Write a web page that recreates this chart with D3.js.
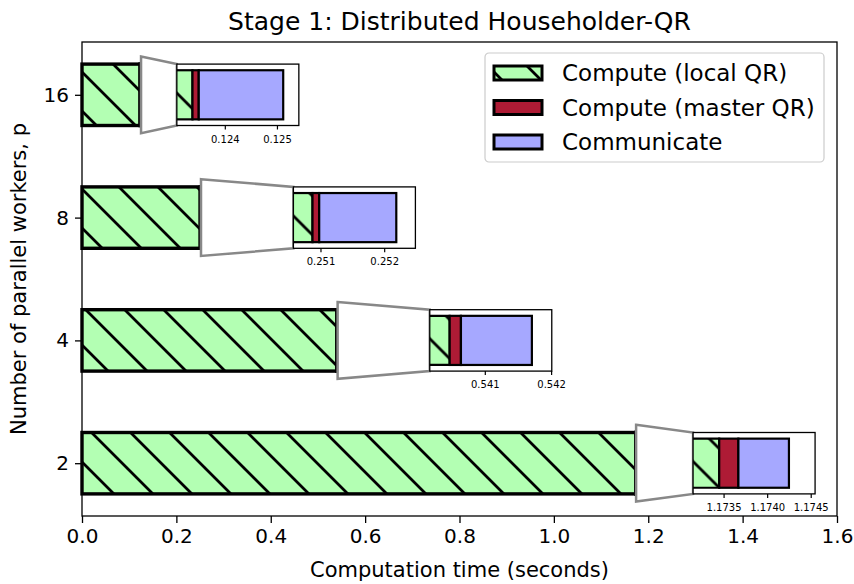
<!DOCTYPE html>
<html lang="en">
<head>
<meta charset="UTF-8">
<title>Stage 1: Distributed Householder-QR</title>
<script src="https://d3js.org/d3.v7.min.js"></script>
<style>
  body { margin: 0; background: #fff; }
  text { font-family: "DejaVu Sans", sans-serif; }
</style>
</head>
<body>
<svg width="854" height="584" id="canvas"></svg>
<script>
// data
const workers = ["2", "4", "8", "16"];
const localQR = [1.17345, 0.54047, 0.250875, 0.12338];
const masterQR = [0.00022, 0.00017, 0.000105, 0.00012];
const communicate = [0.00058, 0.00107, 0.00121, 0.00162];
const xTicks = [0, 0.2, 0.4, 0.6, 0.8, 1.0, 1.2, 1.4, 1.6];
const insetTicks = [[1.1735, 1.1740, 1.1745], [0.541, 0.542], [0.251, 0.252], [0.124, 0.125]];
const seriesNames = ["Compute (local QR)", "Compute (master QR)", "Communicate"];

// layout: where each zoom box sits (in data units), zoom padding
const insetLeft = [1.295, 0.737, 0.448, 0.201];
const zoomPad = 0.0003;

const colors = ["#b3ffb3", "#ae1b35", "#a6a8ff"];

const svg = d3.select("svg");
const L = 82, R = 837, T = 42, B = 516;

const x = d3.scaleLinear().domain([0, 1.6]).range([L, R]);
const y = d3.scaleLinear().domain([-0.43, 3.43]).range([B, T]);
const bh = y(-0.25) - y(0.25);

// hatch pattern
const defs = svg.append("defs");
const s = 39;
const pat = defs.append("pattern")
    .attr("id", "hatch")
    .attr("patternUnits", "userSpaceOnUse")
    .attr("width", s).attr("height", s)
    .attr("x", 10);
pat.append("rect").attr("width", s).attr("height", s).attr("fill", colors[0]);
pat.append("path")
    .attr("d", `M0,0L${s},${s}M${-s/4},${3*s/4}L${s/4},${5*s/4}M${3*s/4},${-s/4}L${5*s/4},${s/4}`)
    .attr("stroke", "black").attr("stroke-width", 2.8);

const fills = ["url(#hatch)", colors[1], colors[2]];

function segments(i) {
    const a = localQR[i], b = a + masterQR[i], c = b + communicate[i];
    return [[0, a, 0], [a, b, 1], [b, c, 2]];
}

// main bars
workers.forEach((w, i) => {
    const g = svg.append("g");
    g.selectAll("rect")
        .data(segments(i))
        .enter()
        .append("rect")
        .attr("x", d => x(d[0]))
        .attr("width", d => x(d[1]) - x(d[0]))
        .attr("y", y(i) - bh / 2)
        .attr("height", bh)
        .attr("fill", d => fills[d[2]])
        .attr("stroke", "black")
        .attr("stroke-width", 3.4);
});

// zoom connectors and insets
const boxW = 122;
workers.forEach((w, i) => {
    const segs = segments(i);
    const total = segs[2][1];
    const yc = y(i);
    const bx = x(insetLeft[i]);
    const big = bh * 1.25 / 2, small = bh / 2;

    svg.append("path")
        .attr("d", `M${x(total)},${yc - big}L${bx},${yc - small}L${bx},${yc + small}L${x(total)},${yc + big}Z`)
        .attr("fill", "white")
        .attr("stroke", "#888")
        .attr("stroke-width", 2.5)
        .attr("stroke-linejoin", "miter");

    const g = svg.append("g").attr("transform", `translate(${bx},${yc - small})`);
    const xi = d3.scaleLinear().domain([localQR[i] - zoomPad, total + zoomPad]).range([0, boxW]);
    const h = bh;

    g.append("rect").attr("width", boxW).attr("height", h).attr("fill", "white");

    defs.append("clipPath").attr("id", "clip" + i)
        .append("rect").attr("width", boxW).attr("height", h);

    g.append("g").attr("clip-path", `url(#clip${i})`)
        .selectAll("rect")
        .data(segs)
        .enter()
        .append("rect")
        .attr("x", d => xi(d[0]))
        .attr("width", d => xi(d[1]) - xi(d[0]))
        .attr("y", h * 0.1)
        .attr("height", h * 0.8)
        .attr("fill", d => fills[d[2]])
        .attr("stroke", "black")
        .attr("stroke-width", 2.2);

    g.append("rect").attr("width", boxW).attr("height", h)
        .attr("fill", "none").attr("stroke", "black").attr("stroke-width", 1.3);

    const fmt = i === 0 ? d3.format(".4f") : d3.format(".3f");
    const ax = g.append("g").attr("transform", `translate(0,${h})`)
        .call(d3.axisBottom(xi).tickValues(insetTicks[i]).tickFormat(fmt).tickSize(4).tickPadding(6));
    ax.select(".domain").remove();
    ax.selectAll("line").attr("stroke-width", 1.2);
    ax.selectAll("text").style("font-size", "10px").attr("fill", "black");
});

// axes
const xAxis = svg.append("g").attr("transform", `translate(0,${B})`)
    .call(d3.axisBottom(x).tickValues(xTicks).tickFormat(d3.format(".1f")).tickSize(7).tickPadding(6));
xAxis.selectAll("text").style("font-size", "20px").attr("fill", "black");
xAxis.selectAll("line").attr("stroke-width", 1.3);

const yAxis = svg.append("g").attr("transform", `translate(${L},0)`)
    .call(d3.axisLeft(y).tickValues([0, 1, 2, 3]).tickFormat(i => workers[i]).tickSize(7).tickPadding(6));
yAxis.selectAll("text").style("font-size", "20px").attr("fill", "black");
yAxis.selectAll("line").attr("stroke-width", 1.3);
svg.selectAll(".domain").remove();

svg.append("rect")
    .attr("x", L).attr("y", T).attr("width", R - L).attr("height", B - T)
    .attr("fill", "none").attr("stroke", "black").attr("stroke-width", 1.3);

// labels
svg.append("text").attr("x", (L + R) / 2).attr("y", 30)
    .attr("text-anchor", "middle").style("font-size", "25px")
    .text("Stage 1: Distributed Householder-QR");
svg.append("text").attr("x", (L + R) / 2).attr("y", 577)
    .attr("text-anchor", "middle").style("font-size", "21px")
    .text("Computation time (seconds)");
svg.append("text")
    .attr("transform", `translate(26,${(T + B) / 2}) rotate(-90)`)
    .attr("text-anchor", "middle").style("font-size", "21px")
    .text("Number of parallel workers, p");

// legend
const lg = svg.append("g").attr("transform", "translate(485,53)");
lg.append("rect").attr("width", 339).attr("height", 109).attr("rx", 4)
    .attr("fill", "white").attr("fill-opacity", 0.8)
    .attr("stroke", "#ccc").attr("stroke-width", 1.2);
seriesNames.forEach((n, k) => {
    const row = lg.append("g").attr("transform", `translate(0,${20 + k * 34.5})`);
    row.append("rect").attr("x", 9).attr("y", -7).attr("width", 48).attr("height", 14)
        .attr("fill", fills[k]).attr("stroke", "black").attr("stroke-width", 3);
    row.append("text").attr("x", 77).attr("y", 0).attr("dy", "0.35em")
        .style("font-size", "23px").text(n);
});
</script>
</body>
</html>
